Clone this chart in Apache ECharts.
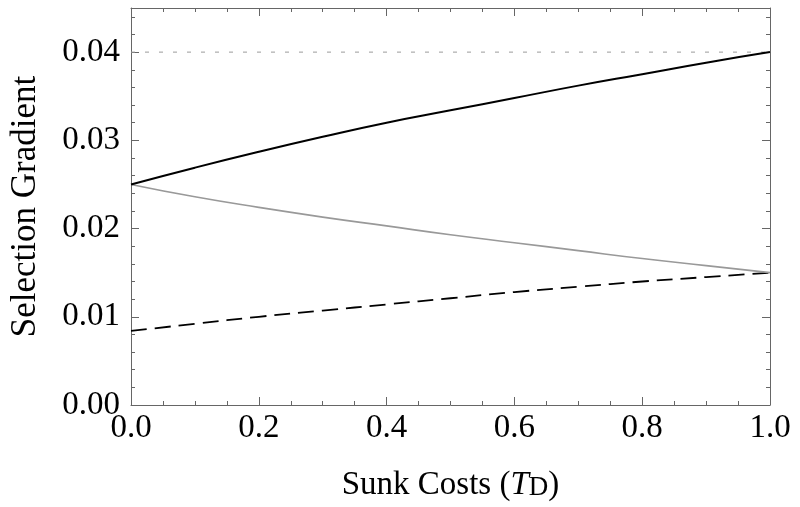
<!DOCTYPE html>
<html>
<head>
<meta charset="utf-8">
<script src="https://cdn.jsdelivr.net/npm/echarts@6/dist/echarts.min.js"></script>
<style>
  html, body { margin: 0; padding: 0; background: #fff; }
  #chart { width: 800px; height: 507px; }
</style>
</head>
<body>
<div id="chart"></div>
<script>
// sunk cost values along x
var sunkCosts = [0, 0.1, 0.2, 0.3, 0.4, 0.5, 0.6, 0.7, 0.8, 0.9, 1.0]
// black solid curve
var upperBranch = [0.025, 0.0269, 0.0287, 0.0304, 0.0320, 0.0334, 0.0348, 0.0362, 0.0375, 0.0388, 0.0400]
// gray solid curve
var lowerBranch = [0.025, 0.0236, 0.0224, 0.0213, 0.0203, 0.0193, 0.0184, 0.0175, 0.0166, 0.0158, 0.0150]
// black dashed curve
var dashedBranch = [0.0084, 0.0092, 0.0100, 0.0107, 0.0114, 0.0121, 0.0128, 0.0134, 0.0140, 0.0145, 0.0150]
// gray dotted reference level
var refX = [0, 1]
var refLevel = [0.04, 0.04]

var serif = 'Liberation Serif'
var frameColor = '#666'

function pairs(xs, ys) {
  return xs.map(function(x, i) { return [x, ys[i]] })
}

function xAxisOf(pos) {
  return {
    type: 'value',
    position: pos,
    min: 0,
    max: 1,
    interval: 0.2,
    axisLine: { onZero: false, lineStyle: { color: frameColor, width: 1 } },
    axisTick: { inside: true, length: 8, lineStyle: { color: frameColor } },
    minorTick: { show: true, splitNumber: 4, length: 4, lineStyle: { color: frameColor } },
    splitLine: { show: false },
    minorSplitLine: { show: false },
    axisLabel: {
      show: pos === 'bottom',
      margin: 7,
      fontSize: 33,
      fontFamily: serif,
      color: '#000',
      formatter: function(v) { return v.toFixed(1) }
    }
  }
}

function yAxisOf(pos, step, len, labels) {
  return {
    type: 'value',
    position: pos,
    min: 0,
    max: 0.045,
    interval: step,
    axisLine: { show: labels !== null, onZero: false, lineStyle: { color: frameColor, width: 1 } },
    axisTick: { inside: true, length: len, lineStyle: { color: frameColor } },
    splitLine: { show: false },
    axisLabel: {
      show: labels === true,
      showMaxLabel: false,
      margin: 11,
      fontSize: 33,
      fontFamily: serif,
      color: '#000',
      formatter: function(v) { return v.toFixed(2) }
    }
  }
}

var chart = echarts.init(document.getElementById('chart'))

var xBottom = xAxisOf('bottom')
xBottom.name = '{n|Sunk Costs (}{t|T}{d|D}{n|)}'
xBottom.nameLocation = 'middle'
xBottom.nameGap = 61
xBottom.nameTextStyle = {
  fontSize: 33,
  fontFamily: serif,
  color: '#000',
  rich: {
    n: { fontSize: 33, fontFamily: serif, color: '#000', lineHeight: 36, verticalAlign: 'bottom' },
    t: { fontSize: 33, fontFamily: serif, fontStyle: 'italic', color: '#000', lineHeight: 36, verticalAlign: 'bottom' },
    d: { fontSize: 27, fontFamily: serif, color: '#000', lineHeight: 36, verticalAlign: 'bottom', padding: [0, 0, 1, 0] }
  }
}

var yLeft = yAxisOf('left', 0.01, 8, true)
yLeft.name = 'Selection Gradient'
yLeft.nameLocation = 'middle'
yLeft.nameGap = 88
yLeft.nameTextStyle = { fontSize: 35, fontFamily: serif, color: '#000' }

chart.setOption({
  animation: false,
  grid: { left: 129, right: 30, top: 8, bottom: 102 },
  xAxis: [xBottom, xAxisOf('top')],
  yAxis: [
    yLeft,
    yAxisOf('left', 0.002, 4, null),
    yAxisOf('right', 0.01, 8, false),
    yAxisOf('right', 0.002, 4, null)
  ],
  series: [
    {
      type: 'line',
      data: pairs(refX, refLevel),
      showSymbol: false,
      lineStyle: { color: '#9a9a9a', width: 1, type: [4, 10] },
      z: 1
    },
    {
      type: 'line',
      data: pairs(sunkCosts, dashedBranch),
      smooth: true,
      showSymbol: false,
      lineStyle: { color: '#000', width: 1.8, type: [16, 8] },
      z: 2
    },
    {
      type: 'line',
      data: pairs(sunkCosts, lowerBranch),
      smooth: true,
      showSymbol: false,
      lineStyle: { color: '#999', width: 1.6 },
      z: 3
    },
    {
      type: 'line',
      data: pairs(sunkCosts, upperBranch),
      smooth: true,
      showSymbol: false,
      lineStyle: { color: '#000', width: 2 },
      z: 4
    }
  ]
})
</script>
</body>
</html>
